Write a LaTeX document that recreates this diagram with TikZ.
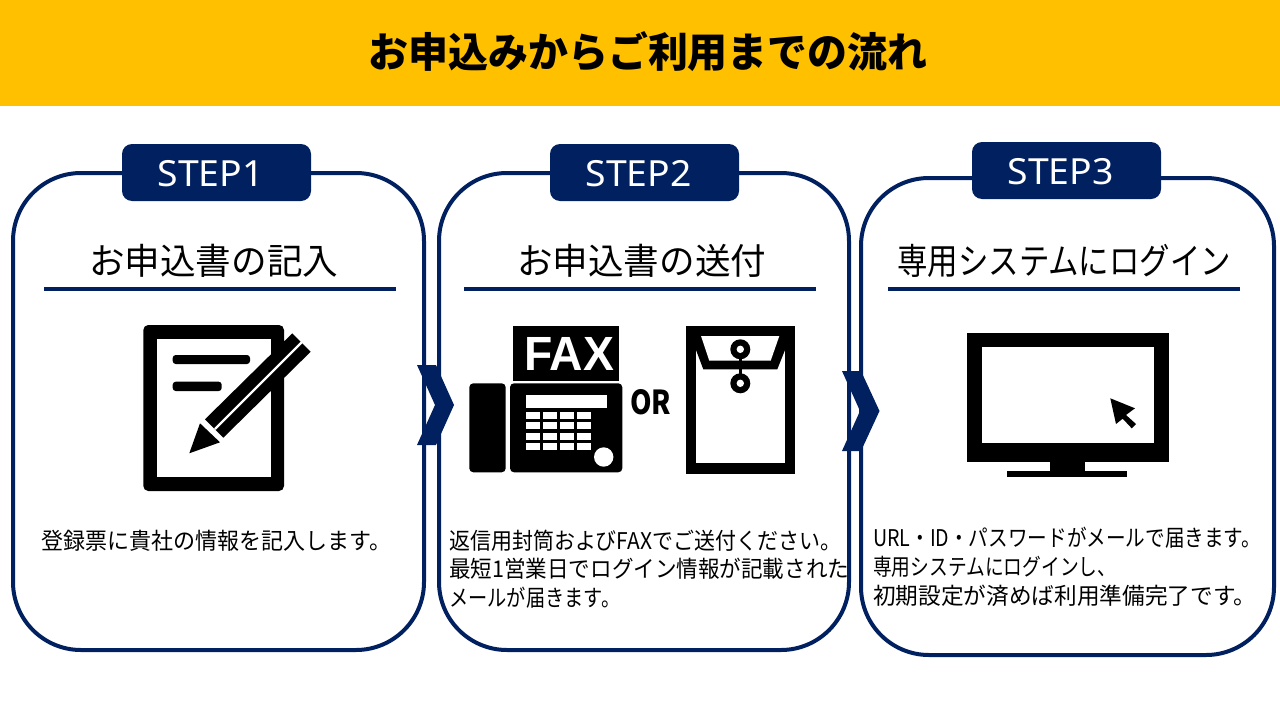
\documentclass[tikz,border=0pt]{standalone}
\usepackage{fontspec}
\usepackage{graphicx}
\setmainfont{Noto Sans CJK JP}
\newfontfamily\latinf{Noto Sans}
\newfontfamily\faxf{Liberation Sans}
\definecolor{navy}{HTML}{002060}
\definecolor{gold}{HTML}{FFC000}
\newcommand{\fw}[2]{\resizebox{#1pt}{\height}{#2}}
\tikzset{
  x=1pt,y=-1pt,
  panel/.style={draw=navy,line width=4pt,rounded corners=68pt},
  tab/.style={fill=navy,rounded corners=10pt},
  steplabel/.style={text=white,inner sep=0pt,font=\latinf\fontsize{36}{36}\selectfont},
  headtxt/.style={inner sep=0pt,anchor=base west,font=\fontsize{36}{36}\selectfont},
  bodytxt/.style={inner sep=0pt,anchor=base west,font=\fontsize{23}{23}\selectfont},
  rule/.style={draw=navy,line width=3.5pt},
  chev/.style={fill=navy},
  ink/.style={fill=black},
  hole/.style={fill=white}
}
\begin{document}
\begin{tikzpicture}
\useasboundingbox (0,0) rectangle (1280,720);
\fill[white] (0,0) rectangle (1280,720);
\fill[gold] (0,0) rectangle (1280,106);
\node[inner sep=0pt,anchor=center,font=\bfseries\fontsize{41}{41}\selectfont] (title) at (648,52) {\fw{559}{お申込みからご利用までの流れ}};

% panels
\draw[panel] (13,173) rectangle (424,650);
\draw[panel] (439,173) rectangle (849,650);
\draw[panel] (861,178) rectangle (1274,655);
\fill[tab] (122,144) rectangle (311,201);
\fill[tab] (550,144) rectangle (739,201);
\fill[tab] (972,142) rectangle (1161,199);
\node[steplabel] (s1) at (210.5,174) {\fw{106}{STEP1}};
\node[steplabel] (s2) at (638.5,174) {\fw{106}{STEP2}};
\node[steplabel] (s3) at (1060.5,172) {\fw{106}{STEP3}};

% headings
\node[headtxt] (h1) at (89,274) {\fw{249}{お申込書の記入}};
\node[headtxt] (h2) at (517,274) {\fw{249}{お申込書の送付}};
\node[headtxt] (h3) at (897,274) {\fw{334}{専用システムにログイン}};
\draw[rule] (44,289) -- (396,289);
\draw[rule] (464,289) -- (816,289);
\draw[rule] (888,289) -- (1240,289);

% chevrons
\fill[chev] (417,365) -- (436,365) -- (454,405) -- (436,445) -- (417,445) -- (435,405) -- cycle;
\fill[chev] (842,371) -- (861,371) -- (879.5,411) -- (861,451) -- (842,451) -- (860,411) -- cycle;

% document + pencil
\fill[ink,rounded corners=5pt] (143.3,325) rectangle (284,491);
\fill[hole] (157.3,339.3) rectangle (270.7,476.7);
\fill[ink,rounded corners=3pt] (172.7,355) rectangle (250,364);
\fill[ink,rounded corners=3pt] (172.7,381.7) rectangle (221.7,391);
\fill[ink] (205,419.3) -- (292.3,333.3) -- (310.7,351.7) -- (223.3,437.7) -- cycle;
\draw[white,line width=2.2pt] (215,429) -- (305,339);
\fill[ink] (200,423.3) -- (220,442.3) -- (189.3,453.3) -- cycle;

% fax
\fill[ink] (513.3,325.7) rectangle (619.3,381.3);
\node[inner sep=0pt,text=white,font=\faxf\bfseries\fontsize{48}{48}\selectfont] (fax) at (569,353.5) {\fw{90}{FAX}};
\fill[ink,rounded corners=4pt] (469.3,383.3) rectangle (505.7,472.3);
\fill[ink,rounded corners=4pt] (510,383.3) rectangle (622.3,472.3);
\fill[hole] (526,394.7) rectangle (606.7,408.3);
\foreach \cx in {526,543,559.7,576.7}
  \foreach \ry in {412,422.3,432.7,442.7}
    \fill[hole] (\cx,\ry) rectangle ++(14,7);
\fill[hole] (603.7,457) circle (9.7pt);
\node[inner sep=0pt,font=\bfseries\fontsize{33}{33}\selectfont] (or) at (650.5,402) {\fw{41}{OR}};

% envelope
\fill[ink] (685.7,325.7) rectangle (795,474);
\fill[hole] (696,336) rectangle (785,463.3);
\fill[ink] (696,336) -- (785,336) -- (785,350) -- (777.3,369.3) -- (703.3,369.3) -- (696,350) -- cycle;
\fill[hole] (701,336) -- (779.3,336) -- (770.7,360.7) -- (709.3,360.7) -- cycle;
\draw[black,line width=2.7pt] (740.3,349.3) -- (740.3,383.3);
\fill[ink] (740.3,349.3) circle (10pt);
\fill[ink] (740.3,383.3) circle (10pt);
\fill[hole] (740.3,349.3) circle (3.7pt);
\fill[hole] (740.3,383.3) circle (3.7pt);

% monitor
\fill[ink] (967.3,332.7) rectangle (1169,462);
\fill[hole] (981.7,347.3) rectangle (1154.3,443);
\fill[ink] (1049.7,462) rectangle (1084.7,470.7);
\fill[ink] (1006.7,470.7) rectangle (1127,477.3);
\fill[ink] (1110.3,398.3) -- (1135,408.3) -- (1126,415) -- (1136,424) -- (1131.7,428.3) -- (1122.7,418.7) -- (1116,424) -- cycle;

% body text
\node[bodytxt] (b1) at (41,549) {\fw{350}{登録票に貴社の情報を記入します。}};
\node[bodytxt] (b2a) at (449,549) {\fw{392}{返信用封筒およびFAXでご送付ください。}};
\node[bodytxt] (b2b) at (449,577) {\fw{400}{最短1営業日でログイン情報が記載された}};
\node[bodytxt] (b2c) at (449,606) {\fw{171}{メールが届きます。}};
\node[bodytxt] (b3a) at (873,546) {\fw{388}{URL・ID・パスワードがメールで届きます。}};
\node[bodytxt] (b3b) at (873,575) {\fw{243}{専用システムにログインし、}};
\node[bodytxt] (b3c) at (873,604) {\fw{383}{初期設定が済めば利用準備完了です。}};
\end{tikzpicture}
\end{document}
